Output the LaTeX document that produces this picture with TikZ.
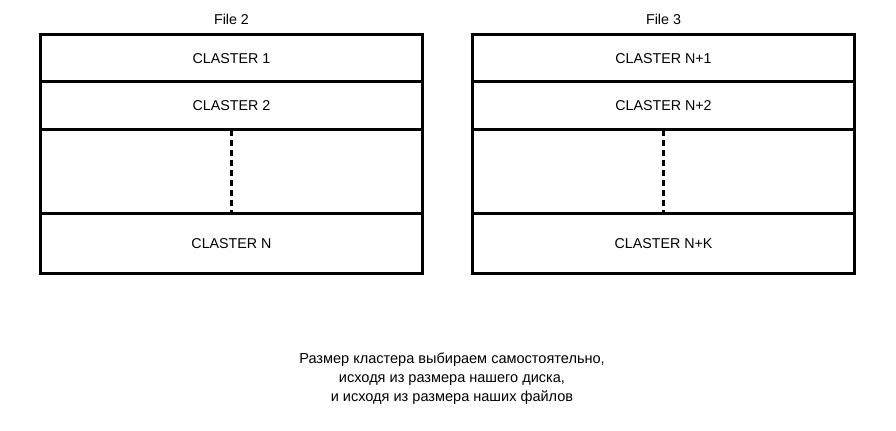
\documentclass[tikz,border=0pt]{standalone}
\usepackage{fontspec}
\setmainfont{Liberation Sans}
\usetikzlibrary{positioning}

\tikzset{
  cell/.style={draw, line width=2.25pt, minimum width=287pt, outer sep=0pt,
    font=\fontsize{10.7}{12}\selectfont, inner sep=0pt, text depth=-0.75pt},
  gapline/.style={dashed, line width=1.6pt, dash pattern=on 4.5pt off 3pt},
  title/.style={font=\fontsize{10.7}{12}\selectfont, anchor=base}
}

\begin{document}
\begin{tikzpicture}[x=0.75pt, y=-0.75pt]
  \useasboundingbox (0,0) rectangle (896,431);
  % File 2
  \node[title] (f2) at (231.5,25) {File 2};
  \node[cell, minimum height=35.25pt, anchor=north] (a1) at (231.5,35) {CLASTER 1};
  \node[cell, minimum height=36pt, below=0pt of a1] (a2) {CLASTER 2};
  \node[cell, minimum height=63pt, below=0pt of a2] (ag) {};
  \node[cell, minimum height=44.25pt, below=0pt of ag] (an) {CLASTER N};
  \draw[gapline] (ag.north) -- (ag.south);
  % File 3
  \node[title] (f3) at (663.5,25) {File 3};
  \node[cell, minimum height=35.25pt, anchor=north] (b1) at (663.5,35) {CLASTER N+1};
  \node[cell, minimum height=36pt, below=0pt of b1] (b2) {CLASTER N+2};
  \node[cell, minimum height=63pt, below=0pt of b2] (bg) {};
  \node[cell, minimum height=44.25pt, below=0pt of bg] (bn) {CLASTER N+K};
  \draw[gapline] (bg.north) -- (bg.south);
  % note
  \node[align=center, font=\fontsize{10.9}{14.25}\selectfont] (note) at (452,379)
    {Размер кластера выбираем самостоятельно,\\
     исходя из размера нашего диска,\\
     и исходя из размера наших файлов};
\end{tikzpicture}
\end{document}
